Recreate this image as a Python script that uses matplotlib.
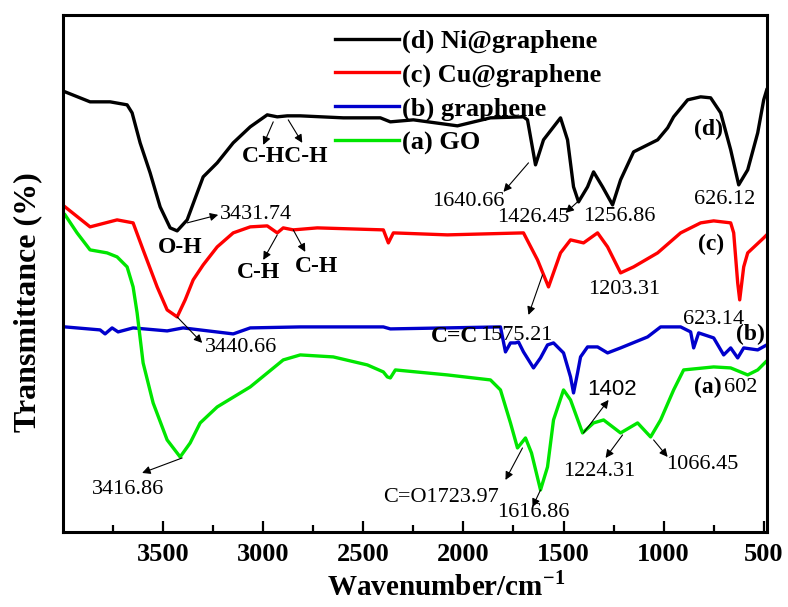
import matplotlib
matplotlib.use('Agg')
import matplotlib.pyplot as plt

plt.rcParams['font.family'] = ['Liberation Serif', 'DejaVu Serif']
plt.rcParams['mathtext.fontset'] = 'custom'
plt.rcParams['mathtext.rm'] = 'Liberation Serif'
plt.rcParams['mathtext.bf'] = 'Liberation Serif:bold'

# FTIR spectra (wavenumber in cm-1, transmittance in arbitrary units)
wn_d = [3990, 3865, 3765, 3680, 3655, 3615, 3565, 3515, 3465, 3430, 3380, 3330, 3300, 3230,
        3150, 3065, 2980, 2930, 2880, 2815, 2600, 2415, 2365, 2250, 2030, 1865, 1700, 1680,
        1640, 1600, 1515, 1480, 1450, 1425, 1380, 1350, 1305, 1255, 1215, 1150, 1030, 980,
        950, 880, 815, 765, 715, 665, 625, 580, 530, 500, 485]
t_d = [440, 430, 430, 427, 419, 389, 359, 325, 304, 301, 312, 339, 355, 369,
       389, 405, 417, 415, 416, 416, 414, 414, 410, 412, 406, 414, 415, 412,
       367, 392, 414, 392, 345, 330, 345, 360, 345, 327, 352, 380, 392, 404,
       415, 432, 435, 434, 419, 382, 347, 362, 399, 432, 442]

wn_c = [3990, 3865, 3730, 3650, 3600, 3530, 3480, 3430, 3390, 3350, 3300, 3230, 3150, 3065,
        2980, 2930, 2900, 2850, 2730, 2400, 2375, 2350, 2080, 1700, 1630, 1575, 1515, 1465,
        1400, 1330, 1280, 1215, 1150, 1030, 915, 815, 750, 665, 650, 630, 620, 600, 580,
        500, 485]
t_c = [325, 305, 312, 309, 282, 245, 222, 215, 232, 252, 267, 285, 299, 305,
       306, 299, 304, 302, 304, 302, 289, 299, 297, 299, 272, 245, 279, 292,
       289, 299, 285, 259, 265, 279, 299, 309, 311, 309, 299, 249, 232, 265, 279,
       294, 297]

wn_b = [3990, 3815, 3790, 3755, 3725, 3650, 3480, 3400, 3150, 3065, 2815, 2400, 2365, 1815,
        1790, 1765, 1740, 1725, 1700, 1650, 1615, 1580, 1550, 1500, 1465, 1450, 1430, 1415,
        1380, 1330, 1280, 1215, 1080, 1015, 915, 865, 850, 825, 750, 700, 665, 630, 600,
        530, 485]
t_b = [205, 202, 198, 204, 200, 204, 201, 204, 198, 204, 205, 205, 203, 205,
       180, 189, 189, 190, 180, 164, 174, 187, 189, 179, 155, 139, 159, 175,
       185, 185, 179, 184, 195, 205, 205, 200, 184, 199, 194, 177, 184, 174, 184,
       182, 187]

wn_a = [3990, 3930, 3865, 3780, 3730, 3680, 3650, 3630, 3600, 3550, 3480, 3415, 3365, 3315,
        3230, 3065, 2900, 2815, 2650, 2480, 2400, 2380, 2365, 2340, 2080, 1865, 1815, 1765,
        1730, 1690, 1660, 1615, 1580, 1550, 1500, 1465, 1405, 1350, 1300, 1215, 1130, 1065,
        1015, 950, 900, 750, 665, 580, 530, 490]
t_a = [317, 299, 282, 279, 275, 265, 245, 219, 169, 129, 92, 75, 89, 109,
       125, 145, 172, 177, 175, 167, 160, 155, 154, 162, 157, 152, 142, 109,
       84, 94, 79, 42, 65, 112, 142, 132, 99, 109, 112, 99, 109, 95,
       112, 142, 162, 165, 164, 157, 162, 170]

labels = ['(d) Ni@graphene', '(c) Cu@graphene', '(b) graphene', '(a) GO']
colors = ['black', '#ff0000', '#0000cc', '#00e600']
ticks = [3500, 3000, 2500, 2000, 1500, 1000, 500]

fig = plt.figure(figsize=(7.88, 6.07), dpi=100)
ax = fig.add_axes([0.080, 0.1236, 0.893, 0.852])

for wn, t, lab, col in zip([wn_d, wn_c, wn_b, wn_a], [t_d, t_c, t_b, t_a], labels, colors):
    ax.plot(wn, t, color=col, lw=2.4, label=lab, solid_joinstyle='round')

ax.set_xlim(4000, 485)
ax.set_ylim(0, 517)
ax.set_xticks(ticks)
ax.set_xticks([3750, 3250, 2750, 2250, 1750, 1250, 750], minor=True)
ax.set_yticks([])
ax.tick_params(axis='x', which='major', direction='in', length=8, width=1.6,
               labelsize=19, pad=8, top=False)
ax.tick_params(axis='x', which='minor', direction='in', length=5, width=1.6, top=False)
for lbl in ax.get_xticklabels():
    lbl.set_fontweight('bold')
for sp in ax.spines.values():
    sp.set_linewidth(2.2)

ax.set_xlabel(r'Wavenumber/cm$^{\mathbf{-1}}$', fontsize=21, fontweight='bold')
ax.xaxis.set_label_coords(0.545, -0.076)
ax.set_ylabel('Transmittance (%)', fontsize=23, fontweight='bold')
ax.yaxis.set_label_coords(-0.030, 0.445)

ax.legend(loc='upper left', bbox_to_anchor=(0.386, 0.972), frameon=False,
          prop={'family': 'Liberation Serif', 'weight': 'bold', 'size': 19},
          handlelength=2.45, handletextpad=0.12, labelspacing=0.38, borderpad=0, borderaxespad=0)

arrow = dict(arrowstyle='-|>', color='black', lw=0.8, mutation_scale=12, shrinkA=0, shrinkB=0)


def note(text, x, y, size=16, bold=False, family=None):
    kw = dict(fontsize=size, ha='left', va='center', fontweight='bold' if bold else 'normal')
    if family:
        kw['family'] = family
    ax.text(x, y, text, **kw)


def arr(x0, y0, x1, y1):
    ax.annotate('', xy=(x1, y1), xytext=(x0, y0), arrowprops=arrow)


# black curve notes
note('C-HC-H', 3105, 375, size=17, bold=True)
arr(2950, 410, 3000, 387)
arr(2875, 412, 2805, 389)
note('3431.74', 3215, 317)
arr(3380, 309, 3225, 317)
note('O-H', 3525, 284, size=17, bold=True)
note('1640.66', 2155, 330)
arr(1675, 369, 1800, 340)
note('1426.45', 1830, 314)
arr(1430, 330, 1490, 319)
note('1256.86', 1400, 315)
note('626.12', 850, 332)
note('(d)', 850, 402, size=17, bold=True)

# red curve notes
note('C-H', 3130, 259, size=17, bold=True)
note('C-H', 2840, 265, size=17, bold=True)
arr(2930, 297, 3000, 272)
arr(2850, 302, 2790, 280)
note('3440.66', 3290, 184)
arr(3430, 215, 3305, 189)
note('(c)', 830, 287, size=17, bold=True)
note('1203.31', 1375, 242)
note('C=C', 2165, 195, size=17, bold=True)
note('1575.21', 1915, 196)
arr(1605, 257, 1675, 217)

# blue curve notes
note('623.14', 905, 212)
note('(b)', 640, 197, size=17, bold=True)

# green curve notes
note('3416.86', 3855, 42)
arr(3405, 74, 3605, 59)
note('C=O1723.97', 2400, 34)
arr(1705, 84, 1790, 52)
note('1616.86', 1830, 19)
arr(1615, 42, 1655, 25)
note('1402', 1380, 142, size=16, family='Liberation Sans')
arr(1400, 99, 1275, 132)
note('1224.31', 1500, 60)
arr(1205, 97, 1290, 74)
note('1066.45', 990, 67)
arr(1050, 92, 980, 75)
note('(a)', 850, 144, size=17, bold=True)
note('602', 700, 144)

fig.savefig('out.png', dpi=100)
